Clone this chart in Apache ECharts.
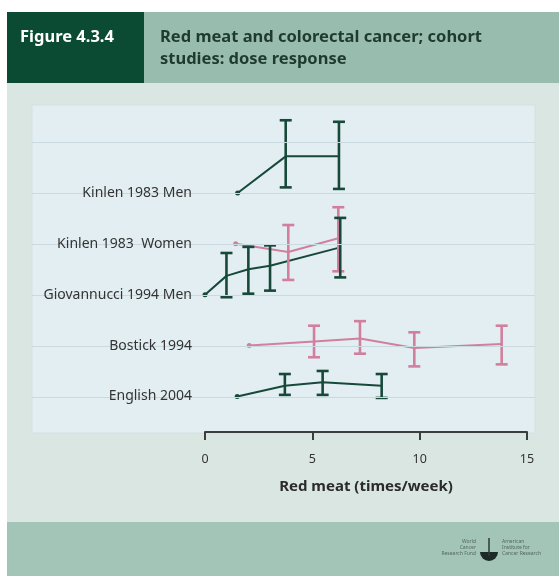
<!DOCTYPE html>
<html>
<head>
<meta charset="utf-8">
<script src="https://cdn.jsdelivr.net/npm/echarts@6/dist/echarts.min.js"></script>
<style>
  body { margin: 0; background: #fff; }
  #main { width: 559px; height: 576px; }
</style>
</head>
<body>
<div id="main"></div>
<script>
// rows, bottom to top
var studyNames = ['English 2004', 'Bostick 1994', 'Giovannucci 1994 Men', 'Kinlen 1983  Women', 'Kinlen 1983 Men'];
var gridRows = [1, 2, 3, 4, 5, 6];

// dose (times/week) and estimate / CI, as shift from each study's own baseline row
var englishDose = [1.5, 3.72, 5.48, 8.23];
var englishEst = [0, 0.21, 0.28, 0.21];
var englishLow = [null, 0.03, 0.03, -0.03];
var englishHigh = [null, 0.44, 0.50, 0.44];

var bostickDose = [2.06, 5.08, 7.22, 9.75, 13.82];
var bostickEst = [0, 0.08, 0.14, -0.05, 0.03];
var bostickLow = [null, -0.23, -0.16, -0.41, -0.37];
var bostickHigh = [null, 0.39, 0.48, 0.26, 0.39];

var giovDose = [0, 1.0, 2.02, 3.03, 6.3];
var giovEst = [0, 0.37, 0.50, 0.57, 0.93];
var giovLow = [null, -0.05, 0.02, 0.08, 0.34];
var giovHigh = [null, 0.82, 0.94, 0.97, 1.51];

var kinlenWDose = [1.43, 3.88, 6.21];
var kinlenWEst = [0, -0.16, 0.11];
var kinlenWLow = [null, -0.71, -0.54];
var kinlenWHigh = [null, 0.37, 0.72];

var kinlenMDose = [1.52, 3.76, 6.24];
var kinlenMEst = [0, 0.72, 0.72];
var kinlenMLow = [null, 0.11, 0.08];
var kinlenMHigh = [null, 1.43, 1.40];

var green = '#17493a';
var pink = '#d27f9e';

// drawing order: pink under green where they overlap
var studies = [
    { dose: englishDose, est: englishEst, low: englishLow, high: englishHigh, color: green, row: 1 },
    { dose: bostickDose, est: bostickEst, low: bostickLow, high: bostickHigh, color: pink, row: 2 },
    { dose: kinlenWDose, est: kinlenWEst, low: kinlenWLow, high: kinlenWHigh, color: pink, row: 4 },
    { dose: giovDose, est: giovEst, low: giovLow, high: giovHigh, color: green, row: 3 },
    { dose: kinlenMDose, est: kinlenMEst, low: kinlenMLow, high: kinlenMHigh, color: green, row: 5 }
];

function renderBar(params, api) {
    var x = api.value(0);
    var top = api.coord([x, api.value(2)]);
    var bot = api.coord([x, api.value(1)]);
    var style = { stroke: api.visual('color'), lineWidth: 2.6 };
    var w = 6;
    return {
        type: 'group',
        children: [
            { type: 'line', shape: { x1: top[0], y1: top[1], x2: bot[0], y2: bot[1] }, style: style },
            { type: 'line', shape: { x1: top[0] - w, y1: top[1], x2: top[0] + w, y2: top[1] }, style: style },
            { type: 'line', shape: { x1: bot[0] - w, y1: bot[1], x2: bot[0] + w, y2: bot[1] }, style: style }
        ]
    };
}

var series = [{
    type: 'line',
    xAxisIndex: 1,
    yAxisIndex: 1,
    data: [],
    silent: true,
    z: 0,
    markLine: {
        silent: true,
        symbol: 'none',
        label: { show: false },
        lineStyle: { color: '#c9d9df', width: 1, type: 'solid' },
        data: gridRows.map(function (v) { return { yAxis: v }; })
    }
}];

studies.forEach(function (s) {
    var lineData = s.dose.map(function (d, i) { return [d, s.row + s.est[i]]; });
    var barData = [];
    s.dose.forEach(function (d, i) {
        if (s.low[i] !== null) barData.push([d, s.row + s.low[i], s.row + s.high[i]]);
    });
    series.push({
        type: 'line',
        data: lineData,
        symbol: function (v, p) { return p.dataIndex === 0 ? 'circle' : 'none'; },
        symbolSize: 5,
        showSymbol: true,
        itemStyle: { color: s.color },
        lineStyle: { color: s.color, width: 2 },
        z: 3
    });
    series.push({
        type: 'custom',
        data: barData,
        renderItem: renderBar,
        itemStyle: { color: s.color },
        encode: { x: 0, y: [1, 2] },
        z: 4
    });
});

var myChart = echarts.init(document.getElementById('main'));

option = {
    animation: false,
    backgroundColor: '#ffffff',
    textStyle: { fontFamily: 'Noto Sans' },
    graphic: [
        { type: 'rect', z: -10, shape: { x: 7, y: 82, width: 552, height: 440 }, style: { fill: '#d9e6e1' } },
        { type: 'rect', z: -10, shape: { x: 7, y: 522, width: 552, height: 54 }, style: { fill: '#a3c5b8' } },
        { type: 'rect', z: -10, shape: { x: 144, y: 12, width: 415, height: 71 }, style: { fill: '#98bdae' } },
        { type: 'rect', z: -10, shape: { x: 7, y: 12, width: 137, height: 71 }, style: { fill: '#0b4b33' } },
        { type: 'text', z: 10, x: 20, y: 37, style: { text: 'Figure 4.3.4', fill: '#ffffff', font: 'bold 16.5px "Noto Sans"', verticalAlign: 'middle' } },
        { type: 'text', z: 10, x: 160, y: 37, style: { text: 'Red meat and colorectal cancer; cohort', fill: '#1f3a2f', font: 'bold 16.5px "Noto Sans"', verticalAlign: 'middle' } },
        { type: 'text', z: 10, x: 160, y: 59, style: { text: 'studies: dose response', fill: '#1f3a2f', font: 'bold 16.5px "Noto Sans"', verticalAlign: 'middle' } },
        { type: 'text', z: 10, x: 476, y: 548, style: { text: 'World\nCancer\nResearch Fund', fill: '#56675f', font: '5px "Noto Sans"', align: 'right', verticalAlign: 'middle', lineHeight: 6 } },
        { type: 'text', z: 10, x: 502, y: 548, style: { text: 'American\nInstitute for\nCancer Research', fill: '#56675f', font: '5px "Noto Sans"', align: 'left', verticalAlign: 'middle', lineHeight: 6 } },
        { type: 'sector', z: 10, shape: { cx: 489, cy: 552, r0: 0, r: 9, startAngle: 0, endAngle: Math.PI }, style: { fill: '#1d2a25' } },
        { type: 'line', z: 10, shape: { x1: 489, y1: 538, x2: 489, y2: 556 }, style: { stroke: '#2d3a34', lineWidth: 1.5 } }
    ],
    grid: [
        { left: 205, right: 32, top: 105, bottom: 144 },
        { left: 32, right: 24, top: 105, bottom: 143, show: true, backgroundColor: '#e3eef2', borderColor: '#d3e0e4', borderWidth: 1, z: -1 }
    ],
    xAxis: [{
        type: 'value',
        min: 0,
        max: 15,
        interval: 5,
        name: 'Red meat (times/week)',
        nameLocation: 'middle',
        nameGap: 47,
        nameTextStyle: { fontWeight: 'bold', fontSize: 15, color: '#2b2b2b' },
        axisLine: { lineStyle: { color: '#3a3f3c', width: 2 } },
        axisTick: { show: true, length: 8, lineStyle: { color: '#3a3f3c', width: 2 } },
        axisLabel: { color: '#333', fontSize: 12.5, margin: 21 },
        splitLine: { show: false }
    }, {
        gridIndex: 1, type: 'value', min: 0, max: 1, show: false
    }],
    yAxis: [{
        type: 'value',
        min: 0.3,
        max: 6.73,
        z: 10,
        axisLine: { show: false },
        axisTick: { show: false },
        splitLine: { show: false },
        axisLabel: {
            customValues: [1, 2, 3, 4, 5],
            margin: 13,
            fontSize: 14,
            color: '#333',
            formatter: function (v) { return studyNames[v - 1] || ''; }
        }
    }, {
        gridIndex: 1, type: 'value', min: 0.3, max: 6.73, show: false
    }],
    series: series
};

myChart.setOption(option);
</script>
</body>
</html>
